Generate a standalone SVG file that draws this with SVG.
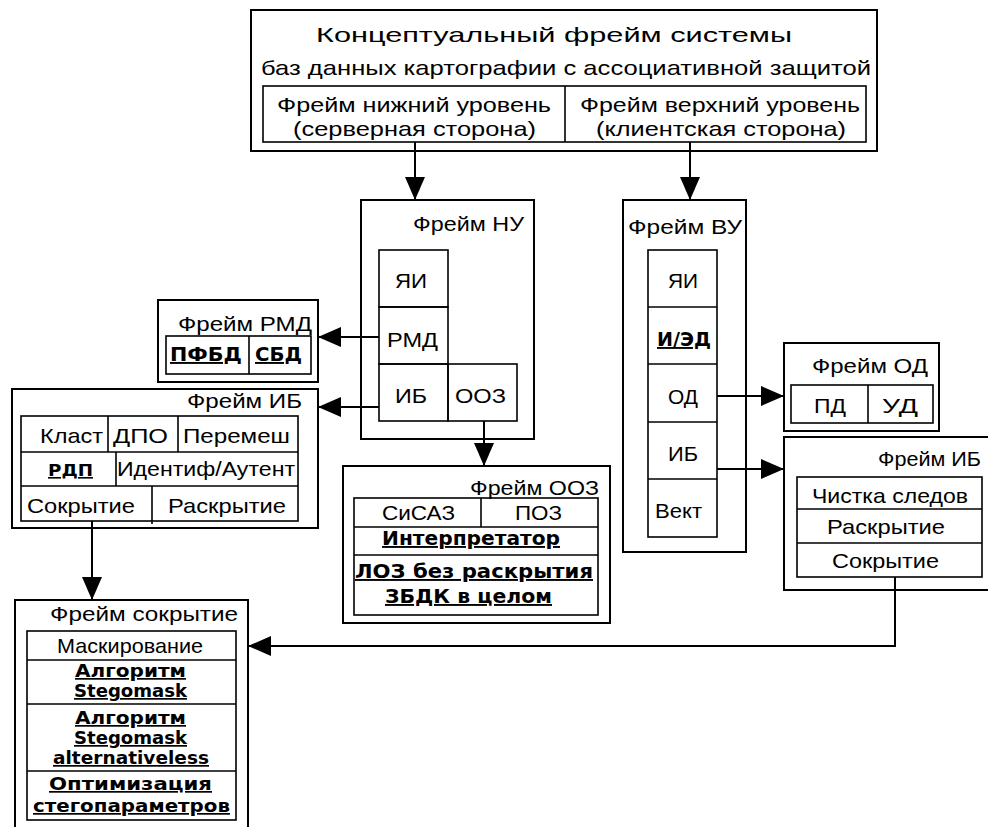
<svg xmlns="http://www.w3.org/2000/svg" width="988" height="827" viewBox="0 0 988 827">
<style>
rect.o{fill:#fff;stroke:#000;stroke-width:2}
rect.i,line.i{fill:none;stroke:#000;stroke-width:1.6}
text{font-family:"Liberation Sans",Arial,sans-serif;font-size:21px;fill:#000}
text.b{font-family:"DejaVu Sans",sans-serif;font-weight:bold;font-size:19px;text-decoration:underline}
text.s{font-size:17px}
.c{fill:none;stroke:#000;stroke-width:2}
</style>
<defs>
<marker id="ah" markerUnits="userSpaceOnUse" markerWidth="24" markerHeight="22" refX="23" refY="10" orient="auto">
<path d="M0,0 L23,10 L0,20 z" fill="#000"/>
</marker>
</defs>
<rect width="988" height="827" fill="#fff"/>

<g id="top">
<rect class="o" x="251" y="10" width="626" height="141" stroke-width="2.5"/>
<text x="316" y="42" textLength="476" lengthAdjust="spacingAndGlyphs">Концептуальный фрейм системы</text>
<text x="261" y="75" textLength="610" lengthAdjust="spacingAndGlyphs">баз данных картографии с ассоциативной защитой</text>
<rect class="i" x="263" y="86" width="603" height="56"/>
<line class="i" x1="565" y1="86" x2="565" y2="142"/>
<text x="277" y="112" textLength="274" lengthAdjust="spacingAndGlyphs">Фрейм нижний уровень</text>
<text x="293" y="136" textLength="243" lengthAdjust="spacingAndGlyphs">(серверная сторона)</text>
<text x="580" y="112" textLength="280" lengthAdjust="spacingAndGlyphs">Фрейм верхний уровень</text>
<text x="596" y="136" textLength="250" lengthAdjust="spacingAndGlyphs">(клиентская сторона)</text>
</g>

<g id="frame-nu">
<rect class="o" x="361" y="200" width="173" height="239"/>
<text x="413" y="231" textLength="111" lengthAdjust="spacingAndGlyphs">Фрейм НУ</text>
<rect class="i" x="379" y="250" width="69" height="57"/>
<rect class="i" x="379" y="307" width="69" height="57"/>
<rect class="i" x="379" y="364" width="69" height="57"/>
<rect class="i" x="448" y="364" width="69" height="57"/>
<text x="395" y="288" textLength="32" lengthAdjust="spacingAndGlyphs">ЯИ</text>
<text x="387" y="347" textLength="51" lengthAdjust="spacingAndGlyphs">РМД</text>
<text x="395" y="403" textLength="32" lengthAdjust="spacingAndGlyphs">ИБ</text>
<text x="455" y="403" textLength="51" lengthAdjust="spacingAndGlyphs">ООЗ</text>
</g>

<g id="frame-rmd">
<rect class="o" x="158" y="300" width="160" height="82"/>
<text x="178" y="331" textLength="134" lengthAdjust="spacingAndGlyphs">Фрейм РМД</text>
<rect class="i" x="166" y="336" width="145" height="38"/>
<line class="i" x1="249" y1="336" x2="249" y2="374"/>
<text class="b" x="170" y="361" textLength="72" lengthAdjust="spacingAndGlyphs">ПФБД</text>
<text class="b" x="255" y="361" textLength="47" lengthAdjust="spacingAndGlyphs">СБД</text>
</g>

<g id="frame-ib-left">
<rect class="o" x="12" y="389" width="306" height="139"/>
<text x="187" y="408" textLength="115" lengthAdjust="spacingAndGlyphs">Фрейм ИБ</text>
<rect class="i" x="21" y="416" width="277" height="105"/>
<line class="i" x1="21" y1="452" x2="298" y2="452"/>
<line class="i" x1="21" y1="486" x2="298" y2="486"/>
<line class="i" x1="108" y1="416" x2="108" y2="452"/>
<line class="i" x1="178" y1="416" x2="178" y2="452"/>
<line class="i" x1="116" y1="452" x2="116" y2="486"/>
<line class="i" x1="152" y1="486" x2="152" y2="524"/>
<text x="40" y="443" textLength="63" lengthAdjust="spacingAndGlyphs">Класт</text>
<text x="113" y="443" textLength="55" lengthAdjust="spacingAndGlyphs">ДПО</text>
<text x="183" y="443" textLength="107" lengthAdjust="spacingAndGlyphs">Перемеш</text>
<text class="b" x="48" y="476" style="font-size:16px" textLength="45" lengthAdjust="spacingAndGlyphs">РДП</text>
<text x="117" y="476" textLength="178" lengthAdjust="spacingAndGlyphs">Идентиф/Аутент</text>
<text x="27" y="513" textLength="108" lengthAdjust="spacingAndGlyphs">Сокрытие</text>
<text x="168" y="513" textLength="118" lengthAdjust="spacingAndGlyphs">Раскрытие</text>
</g>

<g id="frame-ooz">
<rect class="o" x="343" y="466" width="267" height="157"/>
<text x="470" y="495" textLength="129" lengthAdjust="spacingAndGlyphs">Фрейм ООЗ</text>
<rect class="i" x="354" y="498" width="244" height="117"/>
<line class="i" x1="354" y1="527" x2="598" y2="527"/>
<line class="i" x1="354" y1="555" x2="598" y2="555"/>
<line class="i" x1="481" y1="498" x2="481" y2="527"/>
<text x="382" y="520" textLength="73" lengthAdjust="spacingAndGlyphs">СиСАЗ</text>
<text x="515" y="520" textLength="47" lengthAdjust="spacingAndGlyphs">ПОЗ</text>
<text class="b" x="382" y="545" textLength="178" lengthAdjust="spacingAndGlyphs">Интерпретатор</text>
<text class="b" x="355" y="578" textLength="238" lengthAdjust="spacingAndGlyphs">ЛОЗ без раскрытия</text>
<text class="b" x="385" y="603" textLength="167" lengthAdjust="spacingAndGlyphs">ЗБДК в целом</text>
</g>

<g id="frame-vu">
<rect class="o" x="623" y="200" width="123" height="352"/>
<text x="628" y="234" textLength="114" lengthAdjust="spacingAndGlyphs">Фрейм ВУ</text>
<rect class="i" x="648" y="250" width="69" height="287"/>
<line class="i" x1="648" y1="307" x2="717" y2="307"/>
<line class="i" x1="648" y1="364" x2="717" y2="364"/>
<line class="i" x1="648" y1="422" x2="717" y2="422"/>
<line class="i" x1="648" y1="479" x2="717" y2="479"/>
<text x="668" y="288" textLength="30" lengthAdjust="spacingAndGlyphs">ЯИ</text>
<text class="b" x="657" y="346" textLength="54" lengthAdjust="spacingAndGlyphs">И/ЭД</text>
<text x="668" y="404" textLength="30" lengthAdjust="spacingAndGlyphs">ОД</text>
<text x="668" y="461" textLength="30" lengthAdjust="spacingAndGlyphs">ИБ</text>
<text x="655" y="518" textLength="47" lengthAdjust="spacingAndGlyphs">Вект</text>
</g>

<g id="frame-od">
<rect class="o" x="784" y="343" width="155" height="88"/>
<text x="812" y="373" textLength="116" lengthAdjust="spacingAndGlyphs">Фрейм ОД</text>
<rect class="i" x="791" y="385" width="142" height="38"/>
<line class="i" x1="868" y1="385" x2="868" y2="423"/>
<text x="814" y="413" textLength="32" lengthAdjust="spacingAndGlyphs">ПД</text>
<text x="882" y="413" textLength="36" lengthAdjust="spacingAndGlyphs">УД</text>
</g>

<g id="frame-ib-right">
<rect class="o" x="784" y="437" width="210" height="153"/>
<text x="878" y="466" textLength="103" lengthAdjust="spacingAndGlyphs">Фрейм ИБ</text>
<rect class="i" x="797" y="477" width="185" height="100"/>
<line class="i" x1="797" y1="509" x2="982" y2="509"/>
<line class="i" x1="797" y1="543" x2="982" y2="543"/>
<text x="812" y="503" textLength="156" lengthAdjust="spacingAndGlyphs">Чистка следов</text>
<text x="827" y="534" textLength="118" lengthAdjust="spacingAndGlyphs">Раскрытие</text>
<text x="832" y="568" textLength="107" lengthAdjust="spacingAndGlyphs">Сокрытие</text>
</g>

<g id="frame-sokrytie">
<rect class="o" x="15" y="600" width="233" height="240"/>
<text x="50" y="621" textLength="188" lengthAdjust="spacingAndGlyphs">Фрейм сокрытие</text>
<rect class="i" x="27" y="631" width="209" height="189"/>
<line class="i" x1="27" y1="660" x2="236" y2="660"/>
<line class="i" x1="27" y1="704" x2="236" y2="704"/>
<line class="i" x1="27" y1="771" x2="236" y2="771"/>
<text x="57" y="653" textLength="146" lengthAdjust="spacingAndGlyphs">Маскирование</text>
<text class="b s" x="75" y="677" textLength="111" lengthAdjust="spacingAndGlyphs">Алгоритм</text>
<text class="b s" x="74" y="697" textLength="113" lengthAdjust="spacingAndGlyphs">Stegomask</text>
<text class="b s" x="75" y="724" textLength="111" lengthAdjust="spacingAndGlyphs">Алгоритм</text>
<text class="b s" x="74" y="744" textLength="113" lengthAdjust="spacingAndGlyphs">Stegomask</text>
<text class="b s" x="53" y="764" textLength="156" lengthAdjust="spacingAndGlyphs">alternativeless</text>
<text class="b s" x="49" y="790" textLength="163" lengthAdjust="spacingAndGlyphs">Оптимизация</text>
<text class="b s" x="33" y="812" textLength="197" lengthAdjust="spacingAndGlyphs">стегопараметров</text>
</g>

<g id="connectors">
<path class="c" d="M415,142 V200" marker-end="url(#ah)"/>
<path class="c" d="M690,142 V200" marker-end="url(#ah)"/>
<path class="c" d="M379,337 H318" marker-end="url(#ah)"/>
<path class="c" d="M379,407 H318" marker-end="url(#ah)"/>
<path class="c" d="M484,421 V466" marker-end="url(#ah)"/>
<path class="c" d="M92,521 V600" marker-end="url(#ah)"/>
<path class="c" d="M717,396 H784" marker-end="url(#ah)"/>
<path class="c" d="M717,469 H784" marker-end="url(#ah)"/>
<path class="c" d="M895,577 V646 H248" marker-end="url(#ah)"/>
</g>
</svg>
